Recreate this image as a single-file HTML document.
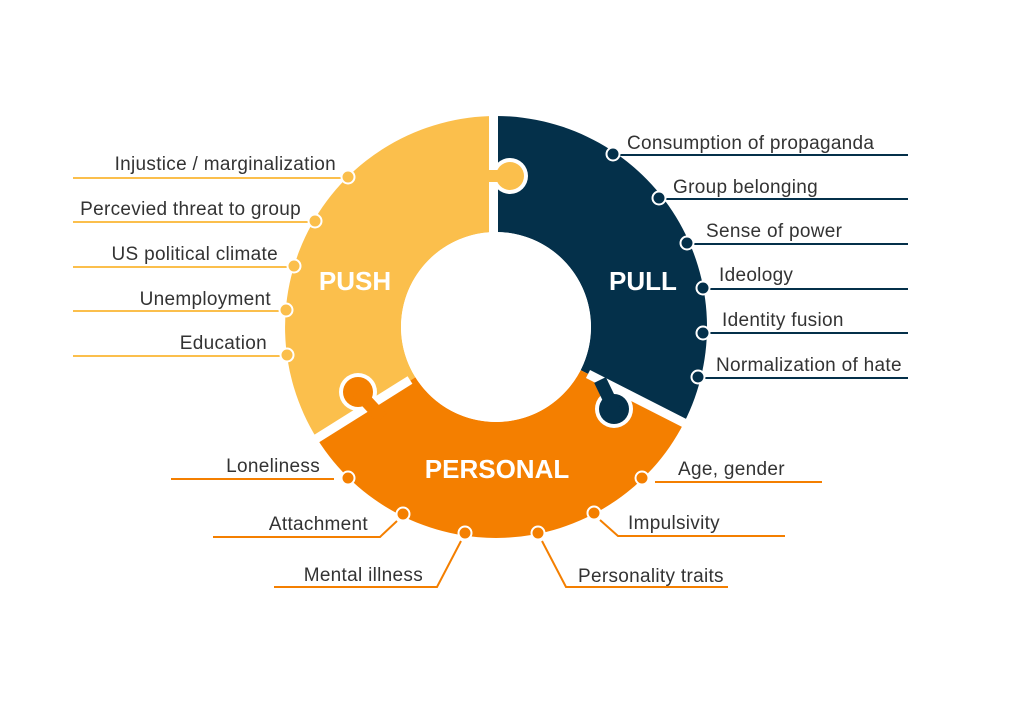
<!DOCTYPE html>
<html><head><meta charset="utf-8"><style>
html,body{margin:0;padding:0;background:#fff}
svg text{font-family:"Liberation Sans",sans-serif}
</style></head><body>
<svg width="1024" height="700" viewBox="0 0 1024 700" xmlns="http://www.w3.org/2000/svg">
<rect width="1024" height="700" fill="#fff"/>
<!-- sectors -->
<path d="M317.1 438.8 A211 211 0 0 1 496 116 L496 232 A95 95 0 0 0 415.4 377.3 Z" fill="#FBBF4C"/>
<path d="M496 116 A211 211 0 0 1 684 422.8 L580.6 370.1 A95 95 0 0 0 496 232 Z" fill="#04304A"/>
<path d="M684 422.8 A211 211 0 0 1 317.1 438.8 L415.4 377.3 A95 95 0 0 0 580.6 370.1 Z" fill="#F47F00"/>
<!-- gaps -->
<g stroke="#fff" stroke-width="9">
<line x1="493.5" y1="100" x2="493.5" y2="240"/>
<line x1="588" y1="374" x2="700" y2="431"/>
<line x1="410" y1="380" x2="300" y2="449"/>
</g>
<!-- knobs -->
<circle cx="510" cy="176" r="18" fill="#fff"/>
<circle cx="510" cy="176" r="14" fill="#FBBF4C"/>
<line x1="510" y1="176" x2="482" y2="176" stroke="#FBBF4C" stroke-width="12"/>
<circle cx="358" cy="392" r="19" fill="#fff"/>
<circle cx="358" cy="392" r="15" fill="#F47F00"/>
<line x1="358" y1="392" x2="382" y2="418" stroke="#F47F00" stroke-width="13"/>
<circle cx="614" cy="409" r="19" fill="#fff"/>
<circle cx="614" cy="409" r="15" fill="#04304A"/>
<line x1="614" y1="409" x2="600" y2="380" stroke="#04304A" stroke-width="13"/>
<circle cx="496" cy="327" r="95" fill="#fff"/>
<!-- titles -->
<g fill="#fff" font-weight="bold" font-size="26" text-anchor="middle">
<text x="355" y="290">PUSH</text>
<text x="643" y="290">PULL</text>
<text x="497" y="478">PERSONAL</text>
</g>
<!-- push labels -->
<g stroke="#FBBF4C" stroke-width="2" fill="none">
<line x1="73" y1="178" x2="341" y2="178"/>
<line x1="73" y1="222" x2="308" y2="222"/>
<line x1="73" y1="267" x2="287" y2="267"/>
<line x1="73" y1="311" x2="279" y2="311"/>
<line x1="73" y1="356" x2="280" y2="356"/>
</g>
<g fill="#FBBF4C" stroke="#fff" stroke-width="2">
<circle cx="348" cy="177" r="6.5"/><circle cx="315" cy="221" r="6.5"/><circle cx="294" cy="266" r="6.5"/><circle cx="286" cy="310" r="6.5"/><circle cx="287" cy="355" r="6.5"/>
</g>
<g fill="#333" font-size="19" letter-spacing="0.3" text-anchor="end">
<text x="336" y="170">Injustice / marginalization</text>
<text x="301" y="215">Percevied threat to group</text>
<text x="278" y="260">US political climate</text>
<text x="271" y="305">Unemployment</text>
<text x="267" y="349">Education</text>
</g>
<!-- pull labels -->
<g stroke="#04304A" stroke-width="2" fill="none">
<line x1="619" y1="155" x2="908" y2="155"/>
<line x1="665" y1="199" x2="908" y2="199"/>
<line x1="693" y1="244" x2="908" y2="244"/>
<line x1="709" y1="289" x2="908" y2="289"/>
<line x1="709" y1="333" x2="908" y2="333"/>
<line x1="704" y1="378" x2="908" y2="378"/>
</g>
<g fill="#04304A" stroke="#fff" stroke-width="2">
<circle cx="613" cy="154" r="6.5"/><circle cx="659" cy="198" r="6.5"/><circle cx="687" cy="243" r="6.5"/><circle cx="703" cy="288" r="6.5"/><circle cx="703" cy="333" r="6.5"/><circle cx="698" cy="377" r="6.5"/>
</g>
<g fill="#333" font-size="19" letter-spacing="0.3">
<text x="627" y="149">Consumption of propaganda</text>
<text x="673" y="193">Group belonging</text>
<text x="706" y="237">Sense of power</text>
<text x="719" y="281">Ideology</text>
<text x="722" y="326">Identity fusion</text>
<text x="716" y="371">Normalization of hate</text>
</g>
<!-- personal labels -->
<g stroke="#F47F00" stroke-width="2" fill="none">
<line x1="171" y1="479" x2="334" y2="479"/>
<polyline points="397,521 380,537 213,537"/>
<polyline points="461,541 437,587 274,587"/>
<polyline points="542,541 566,587 728,587"/>
<polyline points="600,520 618,536 785,536"/>
<line x1="655" y1="482" x2="822" y2="482"/>
</g>
<g fill="#F47F00" stroke="#fff" stroke-width="2">
<circle cx="348" cy="478" r="6.5"/><circle cx="403" cy="514" r="6.5"/><circle cx="465" cy="533" r="6.5"/><circle cx="538" cy="533" r="6.5"/><circle cx="594" cy="513" r="6.5"/><circle cx="642" cy="478" r="6.5"/>
</g>
<g fill="#333" font-size="19" letter-spacing="0.3">
<text x="320" y="472" text-anchor="end">Loneliness</text>
<text x="368" y="530" text-anchor="end">Attachment</text>
<text x="423" y="581" text-anchor="end">Mental illness</text>
<text x="578" y="582">Personality traits</text>
<text x="628" y="529">Impulsivity</text>
<text x="678" y="475">Age, gender</text>
</g>
</svg>
</body></html>
